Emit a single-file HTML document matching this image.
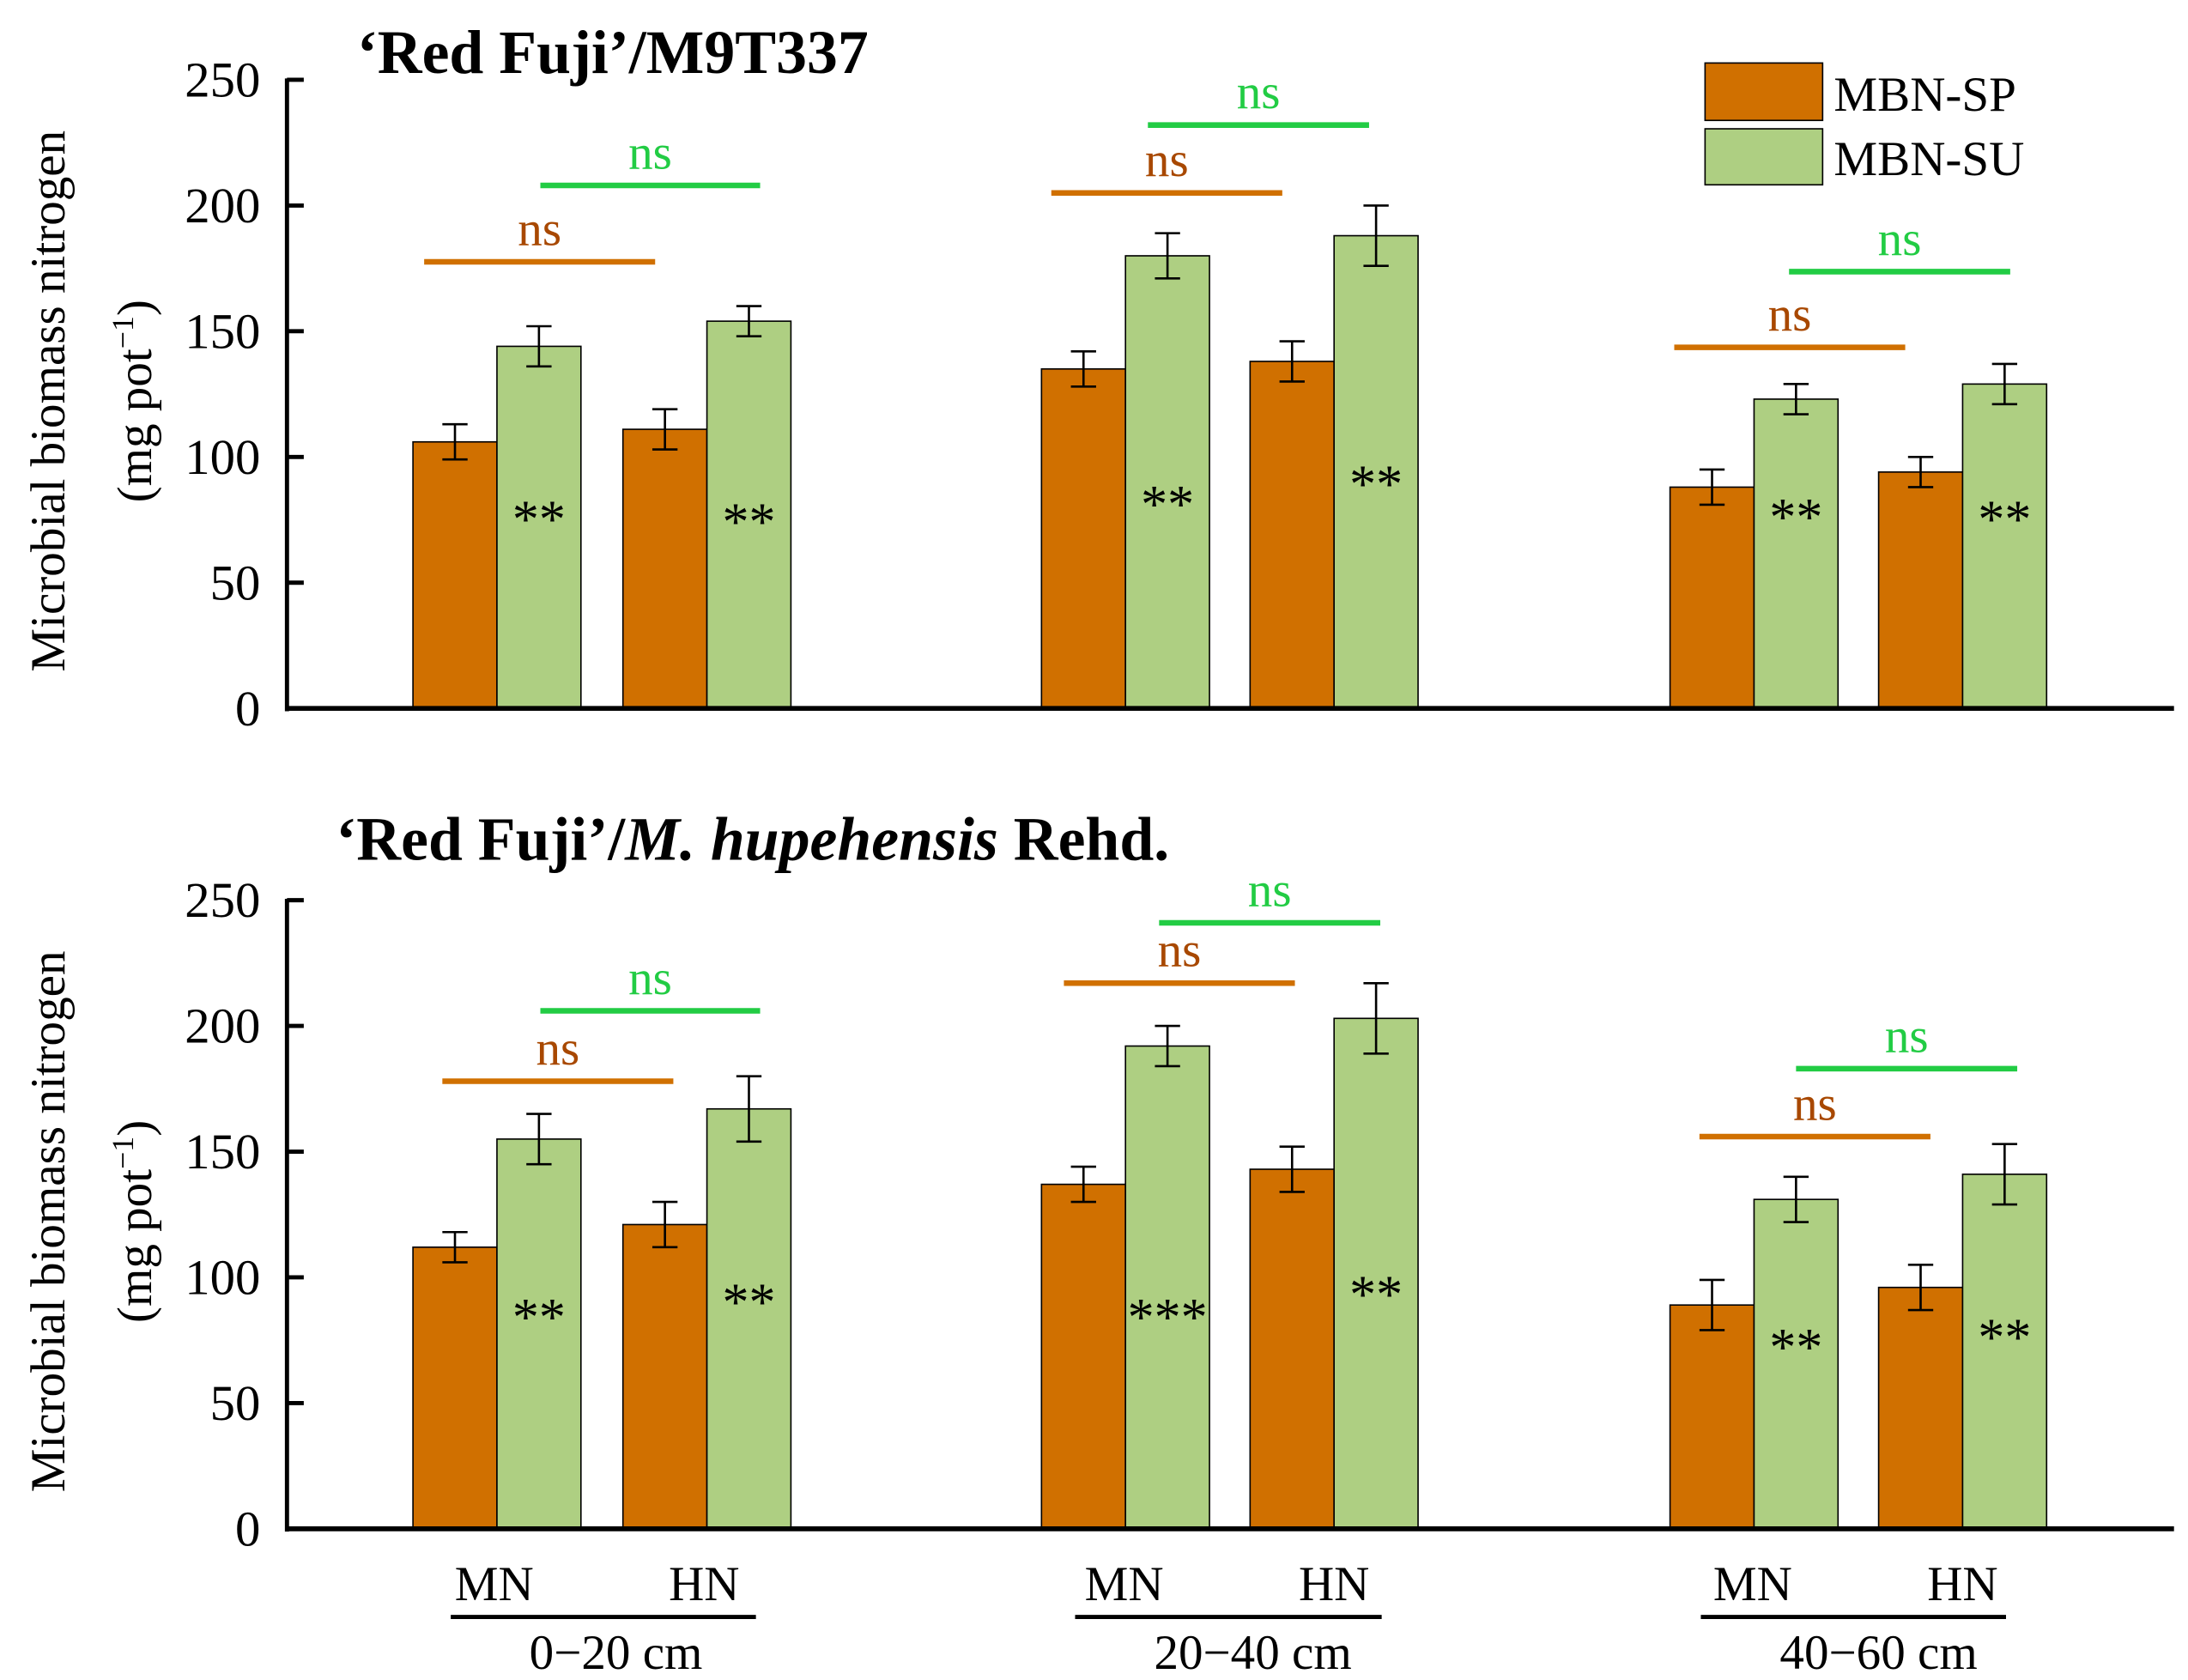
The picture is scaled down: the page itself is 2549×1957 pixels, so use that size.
<!DOCTYPE html>
<html><head><meta charset="utf-8"><style>
html,body{margin:0;padding:0;background:#fff;}
svg{display:block;font-family:"Liberation Serif",serif;}
</style></head><body>
<svg id="chart" width="2549" height="1957" viewBox="0 0 1563 1200" preserveAspectRatio="none" xmlns="http://www.w3.org/2000/svg">
<rect width="1563" height="1200" fill="#fff"/>
<text x="255" y="52" font-size="44" font-weight="bold">‘Red Fuji’/M9T337</text>
<text x="240" y="614" font-size="44" font-weight="bold">‘Red Fuji’/<tspan font-style="italic">M. hupehensis</tspan> Rehd.</text>
<g>
<rect x="1218" y="45" width="84" height="41" fill="#d07000" stroke="#000" stroke-width="1"/>
<text x="1310" y="79" font-size="35">MBN-SP</text>
<rect x="1218" y="92" width="84" height="40" fill="#aecf82" stroke="#000" stroke-width="1"/>
<text x="1310" y="125" font-size="35">MBN-SU</text>
</g>
<g id="plots"></g>
<g font-size="35" text-anchor="middle">
<text x="353" y="1143">MN</text>
<text x="503" y="1143">HN</text>
<line x1="322" y1="1155" x2="540" y2="1155" stroke="#000" stroke-width="3"/>
<text x="440" y="1192">0−20 cm</text>
<text x="803" y="1143">MN</text>
<text x="953" y="1143">HN</text>
<line x1="768" y1="1155" x2="987" y2="1155" stroke="#000" stroke-width="3"/>
<text x="895" y="1192">20−40 cm</text>
<text x="1252" y="1143">MN</text>
<text x="1402" y="1143">HN</text>
<line x1="1215" y1="1155" x2="1433" y2="1155" stroke="#000" stroke-width="3"/>
<text x="1342" y="1192">40−60 cm</text>
</g>
</svg>
<script>
const yTicks = [0, 50, 100, 150, 200, 250];
const barLeft = [295, 445, 744, 893, 1193, 1342];
const topSP = [106, 111, 135, 138, 88, 94];
const topSPerr = [7, 8, 7, 8, 7, 6];
const topSU = [144, 154, 180, 188, 123, 129];
const topSUerr = [8, 6, 9, 12, 6, 8];
const topStars = ['**', '**', '**', '**', '**', '**'];
const topStarVal = [77, 76, 83, 91, 78, 77];
const botSP = [112, 121, 137, 143, 89, 96];
const botSPerr = [6, 9, 7, 9, 10, 9];
const botSU = [155, 167, 192, 203, 131, 141];
const botSUerr = [10, 13, 8, 14, 9, 12];
const botStars = ['**', '**', '***', '**', '**', '**'];
const botStarVal = [86, 92, 86, 95, 74, 78];
const topNsSP = [177.6, 205, 143.6];
const topNsSU = [208, 232, 173.7];
const botNsSP = [178, 217, 156];
const botNsSU = [206, 241, 183];
const nsSPx = [[303, 468], [751, 916], [1196, 1361]];
const nsSUx = [[386, 543], [820, 978], [1278, 1436]];
const botNsSPx = [[316, 481], [760, 925], [1214, 1379]];
const botNsSUx = [[386, 543], [828, 986], [1283, 1441]];

const NS = 'http://www.w3.org/2000/svg';
const root = document.getElementById('plots');
function mk(tag, attrs, parent) {
  const e = document.createElementNS(NS, tag);
  for (const k in attrs) e.setAttribute(k, attrs[k]);
  parent.appendChild(e);
  return e;
}
function panel(name, base, top, sp, spe, su, sue, stars, starV, nsSP, nsSU, spx, sux) {
  const g = mk('g', {}, root);
  
  
  const y = v => base - (base - top) * v / 250;
  const bw = 60;
  const cy = (base + top) / 2 + 5;
  const t1 = mk('text', {x: 0, y: 0, 'font-size': 35, 'text-anchor': 'middle', transform: `translate(46,${cy}) rotate(-90)`}, g);
  t1.textContent = 'Microbial biomass nitrogen';
  
  
  const t2 = mk('text', {x: 0, y: 0, 'font-size': 35, 'text-anchor': 'middle', transform: `translate(108,${cy}) rotate(-90)`}, g);
  t2.innerHTML = '(mg pot<tspan dy="-13" font-size="22">−1</tspan><tspan dy="13">)</tspan>';
  
  
  const ax = mk('line', {x1: 205, y1: top - 1, x2: 205, y2: base + 2, stroke: '#000', 'stroke-width': 3}, g);
  
  
  yTicks.forEach(v => {
    const tk = mk('line', {x1: 205, x2: 217, y1: y(v), y2: y(v), stroke: '#000', 'stroke-width': 3}, g);
    
    
    const tl = mk('text', {x: 186, y: y(v) + 12, 'font-size': 36, 'text-anchor': 'end'}, g);
    tl.textContent = v;
    
    
  });
  barLeft.forEach((x, i) => {
    [[sp, spe, '#d07000', 'bar-mbn-sp', 0], [su, sue, '#aecf82', 'bar-mbn-su', bw]].forEach(([vals, errs, col, nm, off]) => {
      const r = mk('rect', {x: x + off, y: y(vals[i]), width: bw, height: base - y(vals[i]), fill: col, stroke: '#000', 'stroke-width': 1}, g);
      
      
      const cx = x + off + bw / 2;
      const eb = mk('path', {d: `M${cx},${y(vals[i] + errs[i])}V${y(vals[i] - errs[i])}M${cx - 9},${y(vals[i] + errs[i])}H${cx + 9}M${cx - 9},${y(vals[i] - errs[i])}H${cx + 9}`, stroke: '#000', 'stroke-width': 1.6, fill: 'none'}, g);
      
      
    });
    const st = mk('text', {x: x + bw * 1.5, y: y(starV[i]) + 16, 'font-size': 38, 'text-anchor': 'middle'}, g);
    st.textContent = stars[i];
    
    
  });
  const xa = mk('line', {x1: 204, y1: base, x2: 1553, y2: base, stroke: '#000', 'stroke-width': 3.5}, g);
  
  
  [[nsSP, spx, '#d07000', '#a84800'], [nsSU, sux, '#22cc44', '#22cc44']].forEach(([vals, xs, col, tcol]) => {
    vals.forEach((v, i) => {
      const l = mk('line', {x1: xs[i][0], x2: xs[i][1], y1: y(v), y2: y(v), stroke: col, 'stroke-width': 4}, g);
      
      
      const t = mk('text', {x: (xs[i][0] + xs[i][1]) / 2, y: y(v) - 12, 'font-size': 35, 'text-anchor': 'middle', fill: tcol}, g);
      t.textContent = 'ns';
      
      
    });
  });
}
panel('top-panel', 506, 57, topSP, topSPerr, topSU, topSUerr, topStars, topStarVal, topNsSP, topNsSU, nsSPx, nsSUx);
panel('bottom-panel', 1092, 643, botSP, botSPerr, botSU, botSUerr, botStars, botStarVal, botNsSP, botNsSU, botNsSPx, botNsSUx);
</script>
</body></html>
